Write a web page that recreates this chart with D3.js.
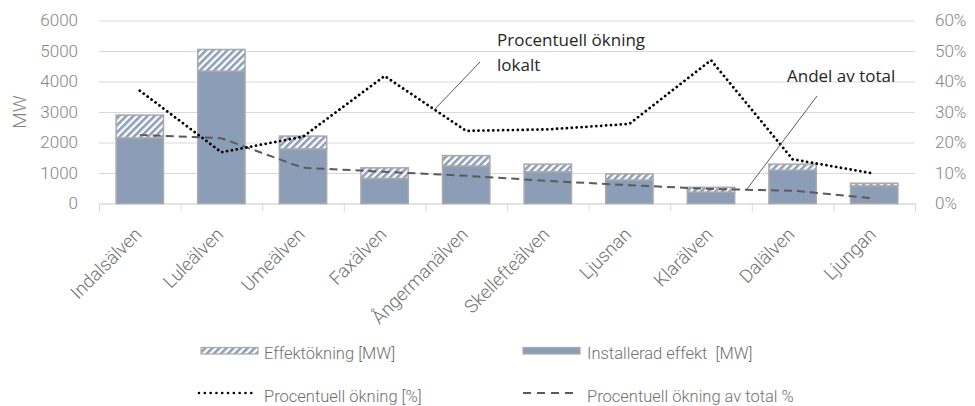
<!DOCTYPE html>
<html>
<head>
<meta charset="utf-8">
<script src="https://cdn.jsdelivr.net/npm/d3@7"></script>
<style>
  html, body { margin: 0; padding: 0; background: #fff; }
  svg text { font-family: Roboto, "Liberation Sans", sans-serif; }
  svg text.note { font-family: "Open Sans", "Liberation Sans", sans-serif; font-weight: 400; }
</style>
</head>
<body>
<svg id="chart" width="975" height="406"></svg>
<script>
// Rivers (x categories)
const categories = ["Indalsälven", "Luleälven", "Umeälven", "Faxälven", "Ångermanälven",
                    "Skellefteälven", "Ljusnan", "Klarälven", "Dalälven", "Ljungan"];
// Installed capacity [MW]
const installed = [2150, 4340, 1790, 820, 1230, 1040, 770, 370, 1090, 580];
// Capacity increase [MW], stacked on top of the installed capacity
const increase = [750, 710, 420, 350, 340, 250, 200, 160, 200, 85];
// Percentage increase, local [%]
const pctLocal = [37, 16.8, 21.9, 41.8, 23.8, 24.3, 26.1, 47, 14.5, 9.8];
// Percentage increase as share of total [%]
const pctTotal = [22.5, 21.4, 11.7, 10.4, 9.1, 7.4, 6.0, 4.75, 4.2, 1.7];
// Axis ticks
const mwTicks = [0, 1000, 2000, 3000, 4000, 5000, 6000];
const pctTicks = [0, 10, 20, 30, 40, 50, 60];

const svg = d3.select("#chart");
const plotLeft = 99, plotRight = 915, plotTop = 20.5, plotBottom = 203.5;

const x = d3.scaleBand().domain(categories).range([plotLeft, plotRight])
  .paddingInner(0.42).paddingOuter(0.21);
const y = d3.scaleLinear().domain([0, 6000]).range([plotBottom, plotTop]);
const yPct = d3.scaleLinear().domain([0, 60]).range([plotBottom, plotTop]);
const cx = c => x(c) + x.bandwidth() / 2;

const barFill = "#8c9db8";
const barStroke = "#a9a9a9";
const axisText = "#858585";

// Hatch pattern for the increase segment
const defs = svg.append("defs");
const pat = defs.append("pattern").attr("id", "hatch")
  .attr("patternUnits", "userSpaceOnUse").attr("width", 5).attr("height", 5)
  .attr("patternTransform", "rotate(45)");
pat.append("rect").attr("width", 5).attr("height", 5).attr("fill", "#fff");
pat.append("rect").attr("x", 0).attr("width", 2.6).attr("height", 5).attr("fill", barFill);

// Horizontal gridlines
svg.append("g").attr("transform", `translate(${plotLeft},0)`)
  .call(d3.axisLeft(y).tickValues(mwTicks).tickSize(-(plotRight - plotLeft)).tickFormat(""))
  .call(g => g.select(".domain").remove())
  .call(g => g.selectAll(".tick line").attr("stroke", "#d9d9d9").attr("stroke-width", 1));

// Category boundary tick marks under the baseline
const bounds = d3.scaleLinear().domain([0, categories.length]).range([plotLeft, plotRight]);
svg.append("g").attr("transform", `translate(0,${plotBottom})`)
  .call(d3.axisBottom(bounds).tickValues(d3.range(categories.length + 1)).tickSize(8).tickFormat(""))
  .call(g => g.select(".domain").attr("stroke", "#d9d9d9"))
  .call(g => g.selectAll(".tick line").attr("stroke", "#d9d9d9"));

// Left axis labels (MW)
svg.append("g").attr("transform", `translate(${plotLeft},0)`)
  .call(d3.axisLeft(y).tickValues(mwTicks).tickSize(0).tickPadding(21).tickFormat(d3.format("d")))
  .call(g => g.select(".domain").remove())
  .call(g => g.selectAll("text").attr("fill", axisText)
    .style("font-size", "17px").style("font-weight", 300));

// Right axis labels (%)
svg.append("g").attr("transform", `translate(${plotRight},0)`)
  .call(d3.axisRight(yPct).tickValues(pctTicks).tickSize(0).tickPadding(20).tickFormat(d => d + "%"))
  .call(g => g.select(".domain").remove())
  .call(g => g.selectAll("text").attr("fill", axisText)
    .style("font-size", "17px").style("font-weight", 300));

// Y axis title
svg.append("text").attr("transform", "translate(26,112) rotate(-90)")
  .attr("text-anchor", "middle").attr("fill", axisText)
  .style("font-size", "19px").style("font-weight", 300).text("MW");

// Stacked bars
const bars = svg.append("g");
bars.selectAll("rect.inst").data(categories).join("rect").attr("class", "inst")
  .attr("x", c => x(c)).attr("width", x.bandwidth())
  .attr("y", (c, i) => y(installed[i]))
  .attr("height", (c, i) => y(0) - y(installed[i]))
  .attr("fill", barFill).attr("stroke", barStroke).attr("stroke-width", 1.5);
bars.selectAll("rect.inc").data(categories).join("rect").attr("class", "inc")
  .attr("x", c => x(c)).attr("width", x.bandwidth())
  .attr("y", (c, i) => y(installed[i] + increase[i]))
  .attr("height", (c, i) => y(installed[i]) - y(installed[i] + increase[i]))
  .attr("fill", "url(#hatch)").attr("stroke", barStroke).attr("stroke-width", 1.5);

// Lines
const line = vals => d3.line().x((d, i) => cx(categories[i])).y(d => yPct(d))(vals);
svg.append("path").attr("d", line(pctTotal)).attr("fill", "none")
  .attr("stroke", "#5a5a5a").attr("stroke-width", 2).attr("stroke-dasharray", "8,5");
svg.append("path").attr("d", line(pctLocal)).attr("fill", "none")
  .attr("stroke", "#000").attr("stroke-width", 2.8).attr("stroke-linecap", "round")
  .attr("stroke-dasharray", "0.01,4.9");

// X category labels
svg.append("g").selectAll("text").data(categories).join("text")
  .attr("transform", c => `translate(${cx(c) + 3},${plotBottom + 32}) rotate(-45)`)
  .attr("text-anchor", "end").attr("fill", "#707070")
  .style("font-size", "18.5px").style("font-weight", 300).text(c => c);

// Annotations
const ann = svg.append("g").attr("fill", "#262626");
const note = (xx, yy, t) => ann.append("text").attr("class", "note")
  .attr("x", xx).attr("y", yy).style("font-size", "17px").text(t);
note(497, 46, "Procentuell ökning");
note(497, 71, "lokalt");
note(787, 82, "Andel av total");
svg.append("line").attr("x1", 480).attr("y1", 62).attr("x2", 434).attr("y2", 110)
  .attr("stroke", "#595959").attr("stroke-width", 1);
svg.append("line").attr("x1", 817).attr("y1", 96).attr("x2", 747).attr("y2", 189)
  .attr("stroke", "#595959").attr("stroke-width", 1);

// Legend
const lg = svg.append("g");
const legendText = (xx, yy, t) => lg.append("text").attr("x", xx).attr("y", yy)
  .attr("fill", "#6f6f6f").style("font-size", "16.5px").style("font-weight", 300).text(t);
lg.append("rect").attr("x", 201).attr("y", 347.5).attr("width", 57).attr("height", 6.5)
  .attr("fill", "url(#hatch)").attr("stroke", barStroke).attr("stroke-width", 1.2);
legendText(264, 358.5, "Effektökning [MW]");
lg.append("rect").attr("x", 523).attr("y", 347.5).attr("width", 57).attr("height", 6.5)
  .attr("fill", barFill).attr("stroke", barStroke).attr("stroke-width", 1.2);
legendText(587, 358.5, "Installerad effekt  [MW]").style("white-space", "pre");
lg.append("line").attr("x1", 199).attr("x2", 252).attr("y1", 393).attr("y2", 393)
  .attr("stroke", "#000").attr("stroke-width", 2.6).attr("stroke-linecap", "round")
  .attr("stroke-dasharray", "0.01,5.8");
legendText(264, 401.5, "Procentuell ökning [%]");
lg.append("line").attr("x1", 523).attr("x2", 577).attr("y1", 393).attr("y2", 393)
  .attr("stroke", "#5a5a5a").attr("stroke-width", 2).attr("stroke-dasharray", "8,6");
legendText(587, 401.5, "Procentuell ökning av total %");
</script>
</body>
</html>
